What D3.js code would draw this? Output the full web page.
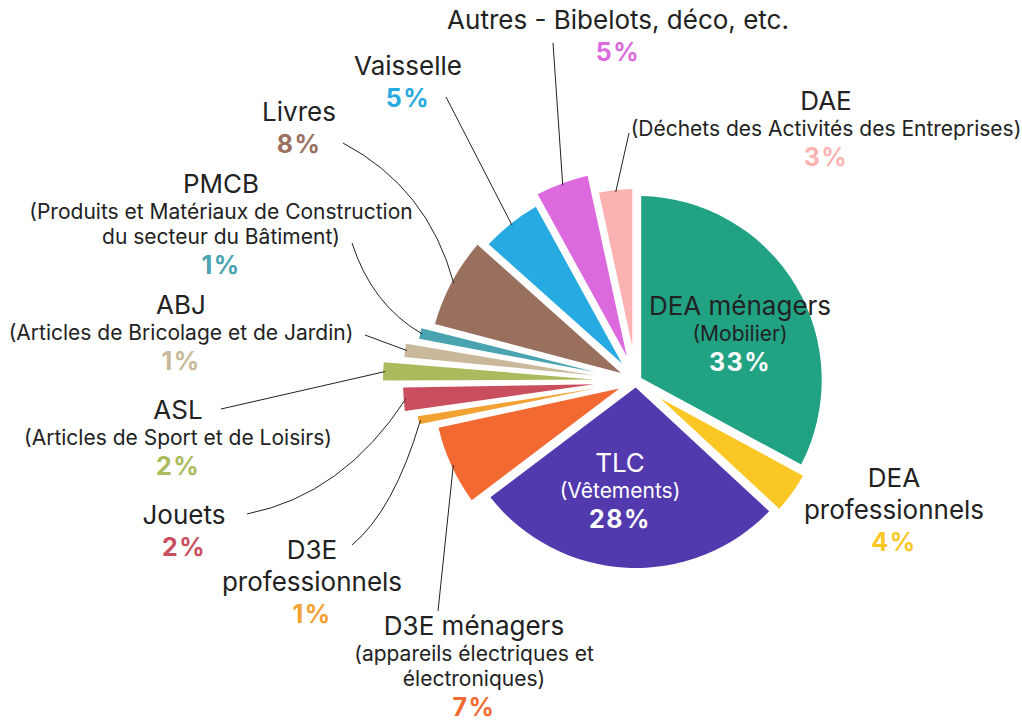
<!DOCTYPE html>
<html>
<head>
<meta charset="utf-8">
<script src="https://cdn.jsdelivr.net/npm/d3@7"></script>
<style>
  body { margin: 0; background: #fff; }
  svg { display: block; }
  text { font-family: Inter, "Noto Sans", sans-serif; }
</style>
</head>
<body>
<div id="chart"></div>
<script>
// Waste categories, clockwise from 12 o'clock ("\n" = line break in the label)
const categories = ["DEA ménagers", "DEA\nprofessionnels", "TLC", "D3E ménagers", "D3E\nprofessionnels",
  "Jouets", "ASL", "ABJ", "PMCB", "Livres", "Vaisselle", "Autres - Bibelots, déco, etc.", "DAE"];
const details = ["(Mobilier)", "", "(Vêtements)", "(appareils électriques et\nélectroniques)", "",
  "", "(Articles de Sport et de Loisirs)", "(Articles de Bricolage et de Jardin)",
  "(Produits et Matériaux de Construction\ndu secteur du Bâtiment)", "", "", "",
  "(Déchets des Activités des Entreprises)"];
// share of the total, in %
const shares = [32.9, 4.0, 27.8, 6.9, 1.1, 2.1, 1.6, 1.4, 1.3, 7.5, 5.4, 4.6, 3.4];
const colors = ["#21a283", "#fbc725", "#5239ad", "#f26a32", "#f2a133", "#c94f5e", "#a9bb5c",
  "#c9b99a", "#4aa3b0", "#996f5e", "#27aae1", "#dc6ade", "#fdb2b2"];

// drawing constants
const width = 1022, height = 722;
const cx = 636, cy = 381;
const gap = 7, explode = 2, tipR = 40, padA = 0.02;
const radii = [184, 190, 185, 201, 219, 231, 251, 231, 219, 207, 199, 209, 190];

// where each label sits (x centre, first baseline) and where its leader line starts
const labelLayout = [
  { x: 740, y: 315, inside: true, titleColor: "#222" },
  { x: 894, y: 487 },
  { x: 620, y: 472, inside: true, titleColor: "#fff" },
  { x: 474, y: 635, from: [438, 611] },
  { x: 312, y: 559, from: [352, 545], bend: [394, 510] },
  { x: 184, y: 524, from: [247, 514], bend: [343, 495] },
  { x: 178, y: 419, from: [221, 409] },
  { x: 181, y: 314, from: [365, 335] },
  { x: 221, y: 193, from: [352, 243], bend: [372, 305] },
  { x: 299, y: 121, from: [343, 143], bend: [428, 188] },
  { x: 408, y: 75, from: [446, 97] },
  { x: 618, y: 29, from: [553, 43] },
  { x: 826, y: 110, from: [629, 133] }
];

const data = categories.map((c, i) => ({
  name: c, detail: details[i], value: shares[i], color: colors[i], r: radii[i], lab: labelLayout[i]
}));
const total = d3.sum(shares);

const svg = d3.select("#chart").append("svg")
  .attr("width", width)
  .attr("height", height);

const g = svg.append("g").attr("transform", `translate(${cx},${cy})`);

const pie = d3.pie().value(d => d.value).sort(null);
const slices = pie(data);

// constant-width gaps: the inner radius is where the two padded edges meet
const arc = d3.arc()
  .outerRadius(d => d.data.r)
  .innerRadius(d => Math.min(tipR, (gap / 2) / Math.sin((d.endAngle - d.startAngle) / 2)))
  .padAngle(padA)
  .padRadius((gap / 2) / Math.sin(padA / 2));

const shift = d => {
  const a = (d.startAngle + d.endAngle) / 2;
  return [explode * Math.sin(a), -explode * Math.cos(a)];
};

g.selectAll("path.slice")
  .data(slices)
  .enter()
  .append("path")
  .attr("class", "slice")
  .attr("d", arc)
  .attr("transform", d => `translate(${shift(d)})`)
  .attr("fill", d => d.data.color);

// leader lines, ending on the outer edge of each slice
const edge = d3.arc()
  .innerRadius(d => d.data.r - 2 + explode)
  .outerRadius(d => d.data.r - 2 + explode);

g.selectAll("path.leader")
  .data(slices.filter(d => d.data.lab.from))
  .enter()
  .append("path")
  .attr("class", "leader")
  .attr("d", d => {
    const lab = d.data.lab;
    const end = edge.centroid(d);
    const p = d3.path();
    p.moveTo(lab.from[0] - cx, lab.from[1] - cy);
    if (lab.bend) p.quadraticCurveTo(lab.bend[0] - cx, lab.bend[1] - cy, end[0], end[1]);
    else p.lineTo(end[0], end[1]);
    return p.toString();
  })
  .attr("fill", "none")
  .attr("stroke", "#222")
  .attr("stroke-width", 1);

// labels
const labels = svg.selectAll("g.label")
  .data(slices)
  .enter()
  .append("g")
  .attr("class", "label");

labels.each(function(d) {
  const lab = d.data.lab;
  const grp = d3.select(this);
  let y = lab.y;
  const titleColor = lab.titleColor || "#222";
  d.data.name.split("\n").forEach((line, i) => {
    if (i > 0) y += 32;
    grp.append("text")
      .attr("x", lab.x).attr("y", y)
      .attr("text-anchor", "middle")
      .style("font-size", "26px")
      .style("fill", titleColor)
      .text(line);
  });
  let last = "title";
  if (d.data.detail) {
    d.data.detail.split("\n").forEach((line, i) => {
      y += i === 0 ? 26 : 25;
      grp.append("text")
        .attr("x", lab.x).attr("y", y)
        .attr("text-anchor", "middle")
        .style("font-size", "21px")
        .style("fill", titleColor)
        .text(line);
    });
    last = "detail";
  }
  y += last === "detail" ? 30 : 32;
  grp.append("text")
    .attr("x", lab.x).attr("y", y)
    .attr("text-anchor", "middle")
    .style("font-size", "25px")
    .style("font-weight", "700")
    .style("letter-spacing", "1.5px")
    .style("fill", lab.inside ? "#fff" : d.data.color)
    .text(Math.round(d.data.value / total * 100) + "%");
});
</script>
</body>
</html>
